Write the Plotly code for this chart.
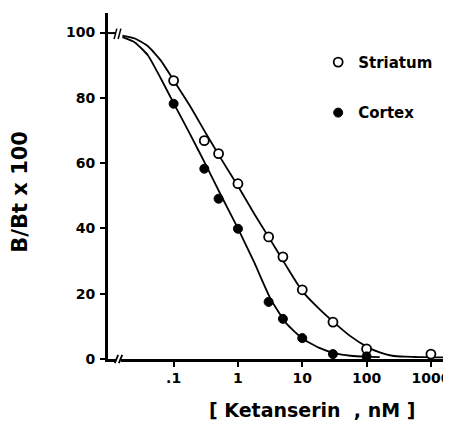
import plotly.graph_objects as go

# ---- data ----
conc_pts = [0.1, 0.3, 0.5, 1, 3, 5, 10, 30, 100, 1000]
striatum_pts = [85.3, 66.9, 62.9, 53.7, 37.4, 31.3, 21.2, 11.3, 3.1, 1.5]

cortex_conc_pts = [0.1, 0.3, 0.5, 1, 3, 5, 10, 30, 100]
cortex_pts = [78.2, 58.3, 49.1, 39.9, 17.5, 12.3, 6.4, 1.5, 0.8]

# fitted curves
striatum_curve_x = [0.016, 0.025, 0.04, 0.063, 0.1, 0.18, 0.32, 0.56, 1,
                    1.8, 3.2, 5.6, 10, 18, 32, 56, 100, 160, 250, 400, 630, 1000, 1700]
striatum_curve_y = [99.1, 98.2, 95.8, 91.5, 85.4, 77.5, 69.0, 61.0, 53.0,
                    44.4, 36.5, 28.6, 20.8, 15.5, 11.0, 7.0, 3.8, 2.0, 1.0, 0.7, 0.6, 0.5, 0.5]

cortex_curve_x = [0.016, 0.025, 0.04, 0.063, 0.1, 0.18, 0.32, 0.56, 1,
                  1.8, 3.2, 5.6, 10, 18, 32, 56, 100, 160]
cortex_curve_y = [98.6, 97.0, 93.0, 86.0, 78.4, 68.9, 59.3, 49.7, 40.0,
                  29.5, 18.5, 11.0, 6.3, 3.5, 1.8, 1.0, 0.7, 0.6]

x_tickvals = [0.1, 1, 10, 100, 1000]
x_ticktext = [".1", "1", "10", "100", "1000"]
y_tickvals = [0, 20, 40, 60, 80, 100]

FONT = "DejaVu Sans"

fig = go.Figure()

fig.add_trace(go.Scatter(x=striatum_curve_x, y=striatum_curve_y, mode="lines",
                         line=dict(color="black", width=1.8, shape="spline", smoothing=0.5),
                         showlegend=False, hoverinfo="skip"))
fig.add_trace(go.Scatter(x=cortex_curve_x, y=cortex_curve_y, mode="lines",
                         line=dict(color="black", width=1.8, shape="spline", smoothing=0.5),
                         showlegend=False, hoverinfo="skip"))

fig.add_trace(go.Scatter(x=conc_pts, y=striatum_pts, mode="markers", name="Striatum",
                         legendgroup="s",
                         marker=dict(symbol="circle", size=9, color="white",
                                     line=dict(color="black", width=1.8))))
fig.add_trace(go.Scatter(x=cortex_conc_pts, y=cortex_pts, mode="markers", name="Cortex",
                         legendgroup="c",
                         marker=dict(symbol="circle", size=9, color="black",
                                     line=dict(color="black", width=1))))

# the page body adds an 8px offset, so the figure is 8px smaller and margins shifted
fig.update_layout(
    template="none",
    width=443, height=414,
    margin=dict(l=100, r=4, t=5, b=63, autoexpand=False),
    paper_bgcolor="white", plot_bgcolor="white",
    font=dict(family=FONT, color="black", size=14, weight="bold"),
    showlegend=True,
    legend=dict(x=0.62, y=0.905, xanchor="left", yanchor="top",
                font=dict(family=FONT, size=15, color="black", weight="bold"),
                tracegroupgap=28, bgcolor="rgba(0,0,0,0)"),
    xaxis=dict(type="log", range=[-2.02, 3.25], showgrid=False, zeroline=False,
               automargin=False,
               showline=True, linecolor="black", linewidth=3,
               ticks="outside", ticklen=5, tickwidth=2, tickcolor="black",
               tickvals=x_tickvals, ticktext=x_ticktext, ticklabelstandoff=-1,
               tickfont=dict(family=FONT, size=14, weight="bold")),
    yaxis=dict(range=[0, 106], showgrid=False, zeroline=False,
               automargin=False,
               showline=True, linecolor="black", linewidth=3,
               ticks="outside", ticklen=5, tickwidth=2, tickcolor="black",
               tickvals=y_tickvals, ticklabelstandoff=2,
               tickfont=dict(family=FONT, size=14, weight="bold")),
    annotations=[
        dict(text="B/Bt x 100", xref="paper", yref="paper", x=-0.26, y=0.483,
             xanchor="center", yanchor="middle",
             textangle=-90, showarrow=False,
             font=dict(family=FONT, size=21, weight="bold")),
        dict(text="[ Ketanserin  , nM ]", xref="paper", yref="paper", x=0.602, y=-0.147,
             xanchor="center", yanchor="middle",
             showarrow=False, font=dict(family=FONT, size=19, weight="bold")),
    ],
    shapes=[
        # axis break on the x axis
        dict(type="rect", xref="paper", yref="paper", x0=0.024, x1=0.038, y0=-0.012, y1=0.012,
             fillcolor="white", line=dict(width=0), layer="above"),
        dict(type="line", xref="paper", yref="paper", x0=0.020, x1=0.030, y0=-0.012, y1=0.012,
             line=dict(color="black", width=1.8), layer="above"),
        dict(type="line", xref="paper", yref="paper", x0=0.032, x1=0.042, y0=-0.012, y1=0.012,
             line=dict(color="black", width=1.8), layer="above"),
        # break marks at the top of the curves
        dict(type="line", xref="paper", yref="paper", x0=-0.012, x1=0.022, y0=0.942, y1=0.942,
             line=dict(color="black", width=2), layer="above"),
        dict(type="line", xref="paper", yref="paper", x0=0.018, x1=0.026, y0=0.925, y1=0.955,
             line=dict(color="black", width=1.5), layer="above"),
        dict(type="line", xref="paper", yref="paper", x0=0.030, x1=0.038, y0=0.925, y1=0.955,
             line=dict(color="black", width=1.5), layer="above"),
    ],
)

fig.write_html("out.html")
